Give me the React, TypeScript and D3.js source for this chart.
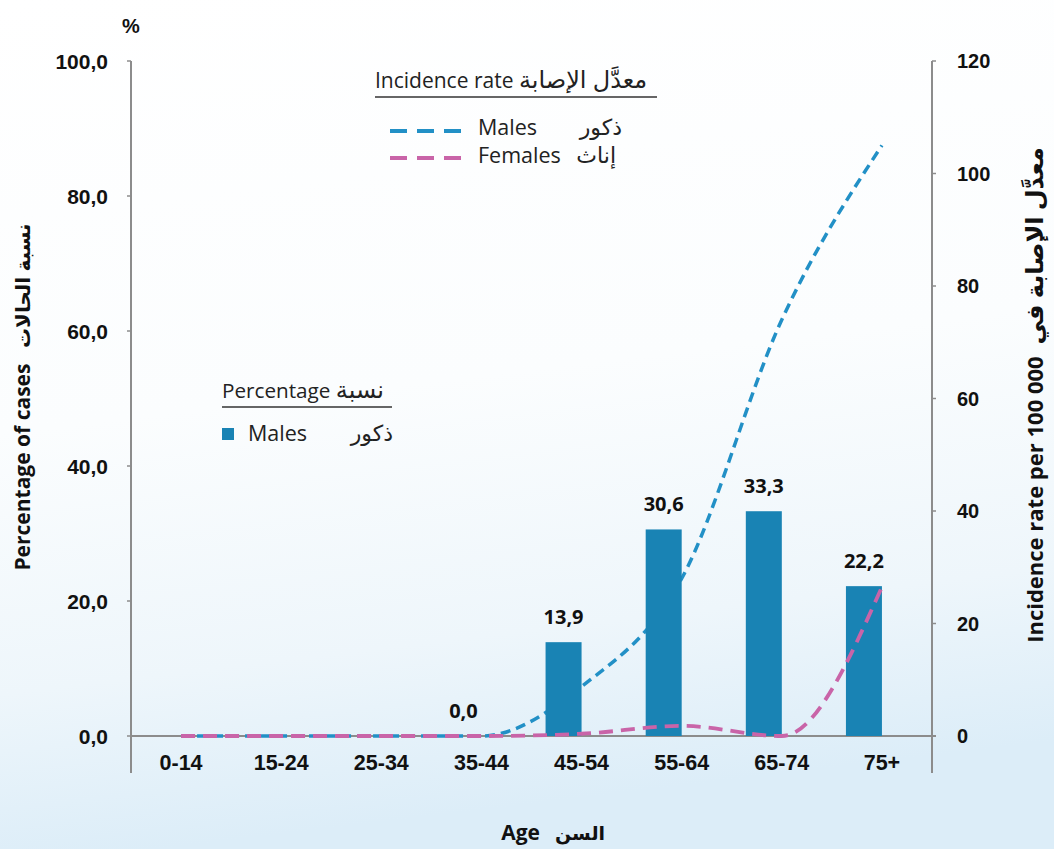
import React from "react";
import * as d3 from "d3";

const ageGroups = ["0-14", "15-24", "25-34", "35-44", "45-54", "55-64", "65-74", "75+"];
const malesPercentage: (number | null)[] = [null, null, null, 0.0, 13.9, 30.6, 33.3, 22.2];
const malesIncidence = [0, 0, 0, 0, 8.8, 28, 74, 105];
const femalesIncidence = [0, 0, 0, 0, 0.4, 1.8, 0, 26.5];
const leftTicks = [0, 20, 40, 60, 80, 100];
const rightTicks = [0, 20, 40, 60, 80, 100, 120];

const W = 1054;
const H = 849;
const BAR = "#1983b4";
const BLUE = "#2290c6";
const PINK = "#c964a8";
const AXIS = "#8c8c8c";

const fmt = (v: number) => d3.format(".1f")(v).replace(".", ",");

export default function App() {
  const left = 131, right = 932, top = 61, bottom = 736, axisEnd = 773;
  const x = d3.scaleBand<string>().domain(ageGroups).range([left, right]).padding(0);
  const sub = d3.scaleBand<string>().domain(["Males", "Females"]).range([0, 72]).padding(0);
  const center = (g: string) => (x(g) as number) + x.bandwidth() / 2;
  const yL = d3.scaleLinear().domain([0, 100]).range([bottom, top]);
  const yR = d3.scaleLinear().domain([0, 120]).range([bottom, top]);

  const line = d3
    .line<number>()
    .x((_, i) => center(ageGroups[i]))
    .y((d) => yR(d))
    .curve(d3.curveMonotoneX);

  const tickFont = "'Liberation Sans', Arial, sans-serif";
  const legFont = "'Open Sans', 'DejaVu Sans', sans-serif";
  const AR = 24;

  return (
    <div style={{ position: "absolute", left: 0, top: 0 }}>
      <svg width={W} height={H} style={{ display: "block" }}>
        <defs>
          <linearGradient id="bg" x1="0" y1="0" x2="0.15" y2="1">
            <stop offset="0" stopColor="#ffffff" />
            <stop offset="0.5" stopColor="#fbfdfe" />
            <stop offset="0.8" stopColor="#eef6fb" />
            <stop offset="1" stopColor="#dcedf8" />
          </linearGradient>
        </defs>
        <rect x={0} y={0} width={W} height={H} fill="url(#bg)" />

        {/* axes */}
        <line x1={left} x2={left} y1={top} y2={axisEnd} stroke={AXIS} strokeWidth={2} />
        <line x1={right} x2={right} y1={top} y2={axisEnd} stroke={AXIS} strokeWidth={2} />
        <line x1={left} x2={right + 4} y1={bottom} y2={bottom} stroke={AXIS} strokeWidth={2} />
        {leftTicks.map((t) => (
          <g key={"l" + t}>
            <line x1={left - 4} x2={left} y1={yL(t)} y2={yL(t)} stroke={AXIS} strokeWidth={1.5} />
            <text x={108} y={yL(t)} dy="0.36em" textAnchor="end" fontFamily={tickFont} fontWeight="bold" fontSize={21} fill="#111">
              {fmt(t)}
            </text>
          </g>
        ))}
        {rightTicks.map((t) => (
          <g key={"r" + t}>
            <line x1={right} x2={right + 4} y1={yR(t)} y2={yR(t)} stroke={AXIS} strokeWidth={1.5} />
            <text x={957} y={yR(t)} dy="0.36em" textAnchor="start" fontFamily={tickFont} fontWeight="bold" fontSize={20} fill="#111">
              {t}
            </text>
          </g>
        ))}
        {ageGroups.map((g) => (
          <text key={"x" + g} x={center(g)} y={770} textAnchor="middle" fontFamily={tickFont} fontWeight="bold" fontSize={21.5} fill="#111">
            {g}
          </text>
        ))}
        <text x={131} y={33} textAnchor="middle" fontFamily={tickFont} fontWeight="bold" fontSize={20} fill="#111">%</text>

        {/* male incidence line (behind bars) */}
        <path d={line(malesIncidence) || ""} fill="none" stroke={BLUE} strokeWidth={3.5} strokeDasharray="10,6" />

        {/* bars */}
        {ageGroups.map((g, i) => {
          const v = malesPercentage[i];
          if (v === null) return null;
          const bx = center(g) - sub.bandwidth() + (sub("Males") as number);
          return (
            <g key={"b" + g}>
              {v > 0 && <rect x={bx} y={yL(v)} width={sub.bandwidth()} height={bottom - yL(v)} fill={BAR} />}
              <text x={bx + sub.bandwidth() / 2} y={yL(v) - 18} textAnchor="middle" fontFamily={legFont} fontWeight="bold" fontSize={20} fill="#111">
                {fmt(v)}
              </text>
            </g>
          );
        })}

        {/* female incidence line */}
        <path d={line(femalesIncidence) || ""} fill="none" stroke={PINK} strokeWidth={3.8} strokeDasharray="14,8" />

        {/* incidence legend */}
        <text x={375} y={88} fontFamily={legFont} fontSize={21} fill="#222" direction="ltr">
          Incidence rate <tspan fontSize={AR}>معدَّل الإصابة</tspan>
        </text>
        <line x1={375} x2={657} y1={97} y2={97} stroke="#333" strokeWidth={1.5} />
        <line x1={390} x2={462} y1={131} y2={131} stroke={BLUE} strokeWidth={4} strokeDasharray="17,10" />
        <line x1={390} x2={462} y1={158} y2={158} stroke={PINK} strokeWidth={4} strokeDasharray="17,10" />
        <text x={478} y={135} fontFamily={legFont} fontSize={21.5} fill="#222">Males</text>
        <text x={622} y={135} textAnchor="end" fontFamily={legFont} fontSize={22} fill="#222">ذكور</text>
        <text x={478} y={163} fontFamily={legFont} fontSize={21.5} fill="#222">Females</text>
        <text x={616} y={163} textAnchor="end" fontFamily={legFont} fontSize={22} fill="#222">إناث</text>

        {/* percentage legend */}
        <text x={222} y={398} fontFamily={legFont} fontSize={20.7} fill="#222" direction="ltr">
          Percentage <tspan fontSize={AR}>نسبة</tspan>
        </text>
        <line x1={222} x2={392} y1={407} y2={407} stroke="#333" strokeWidth={1.5} />
        <rect x={222} y={428} width={12} height={12} fill={BAR} />
        <text x={248} y={441} fontFamily={legFont} fontSize={21.5} fill="#222">Males</text>
        <text x={393} y={441} textAnchor="end" fontFamily={legFont} fontSize={22} fill="#222">ذكور</text>

        {/* axis titles */}
        <text transform="translate(30,397) rotate(-90)" textAnchor="middle" fontFamily={legFont} fontWeight="bold" fontSize={21} fill="#111" direction="ltr">
          Percentage of cases <tspan dx={10} fontSize={20}>نسبة الحالات</tspan>
        </text>
        <text transform="translate(1043,395) rotate(-90)" textAnchor="middle" fontFamily={legFont} fontWeight="bold" fontSize={22} fill="#111" direction="ltr">
          Incidence rate per 100 000 <tspan dx={6} fontSize={AR}>معدَّل الإصابة في</tspan>
        </text>
        <text x={540} y={840} textAnchor="end" fontFamily={legFont} fontWeight="bold" fontSize={21} fill="#111">Age</text>
        <text x={555} y={840} textAnchor="start" fontFamily={legFont} fontWeight="bold" fontSize={19} fill="#111">السن</text>
      </svg>
    </div>
  );
}
